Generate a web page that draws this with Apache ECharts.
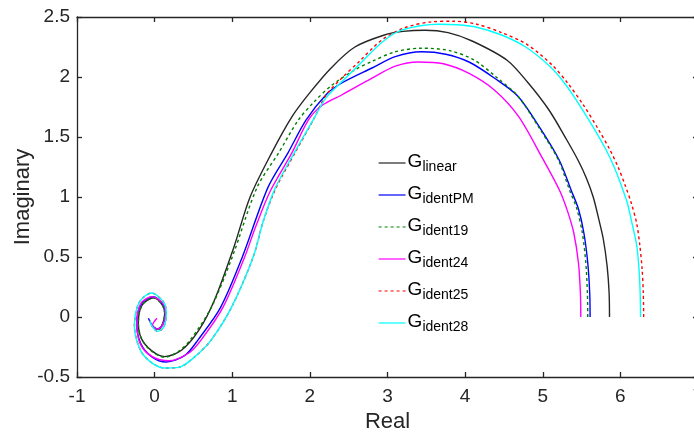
<!DOCTYPE html>
<html>
<head>
<meta charset="utf-8">
<script src="https://cdn.jsdelivr.net/npm/echarts@6/dist/echarts.min.js"></script>
<style>
html,body{margin:0;padding:0;background:#fff;}
#chart{width:694px;height:434px;}
</style>
</head>
<body>
<div id="chart"></div>
<script>
// ---- data: [Real, Imaginary] pairs ----
const seriesNames = ['G_linear', 'G_identPM', 'G_ident19', 'G_ident24', 'G_ident25', 'G_ident28'];

const gLinear = [[5.86,0],[5.855,0.2],[5.83,0.42],[5.78,0.65],[5.72,0.82],[5.65,1.0],[5.56,1.16],[5.46,1.30],[5.31,1.475],[5.08,1.725],[4.80,1.96],[4.54,2.14],[4.09,2.30],[3.78,2.37],[3.48,2.39],[3.20,2.38],[2.96,2.35],[2.58,2.25],[2.28,2.08],[2.00,1.87],[1.77,1.67],[1.51,1.37],[1.23,1.0],[1.02,0.58],[0.77,0.14],[0.57,-0.11],[0.35,-0.275],[0.13,-0.33],[-0.04,-0.28],[-0.17,-0.18],[-0.21,-0.05],[-0.16,0.10],[-0.01,0.16],[0.10,0.10],[0.13,0.03],[0.10,-0.06],[0.05,-0.10],[-0.01,-0.09]];

const gIdentPM = [[5.61,0],[5.605,0.2],[5.58,0.45],[5.53,0.70],[5.46,0.90],[5.37,1.05],[5.21,1.31],[4.96,1.58],[4.68,1.84],[4.38,1.99],[4.05,2.125],[3.75,2.19],[3.44,2.21],[3.10,2.17],[2.80,2.075],[2.41,1.95],[2.22,1.86],[1.95,1.64],[1.72,1.37],[1.46,1.08],[1.13,0.5],[0.85,0.08],[0.56,-0.19],[0.39,-0.32],[0.15,-0.375],[-0.04,-0.33],[-0.18,-0.22],[-0.23,-0.05],[-0.17,0.11],[-0.02,0.17],[0.11,0.10],[0.14,0.02],[0.10,-0.07],[0.03,-0.10],[-0.04,-0.06],[-0.08,-0.01]];

const gIdent19 = [[5.58,0],[5.575,0.2],[5.555,0.45],[5.51,0.70],[5.44,0.90],[5.35,1.05],[5.20,1.31],[4.95,1.58],[4.68,1.84],[4.40,2.0],[4.12,2.14],[3.80,2.22],[3.44,2.24],[3.10,2.21],[2.80,2.13],[2.58,2.06],[2.28,1.93],[2.05,1.79],[1.85,1.64],[1.60,1.37],[1.32,1.08],[1.00,0.5],[0.73,0.08],[0.46,-0.19],[0.30,-0.29],[0.13,-0.335],[-0.04,-0.285],[-0.17,-0.18],[-0.21,-0.05],[-0.16,0.10],[-0.01,0.16],[0.10,0.10],[0.13,0.03],[0.10,-0.06],[0.05,-0.10],[-0.01,-0.09]];

const gIdent24 = [[5.49,0],[5.485,0.2],[5.46,0.45],[5.40,0.70],[5.32,0.88],[5.22,1.05],[4.99,1.33],[4.69,1.67],[4.38,1.89],[4.05,2.03],[3.72,2.11],[3.40,2.125],[3.10,2.09],[2.80,1.99],[2.41,1.85],[2.15,1.76],[1.98,1.64],[1.77,1.37],[1.49,1.05],[1.30,0.75],[1.16,0.5],[0.88,0.08],[0.60,-0.19],[0.44,-0.30],[0.18,-0.365],[-0.03,-0.33],[-0.18,-0.23],[-0.23,-0.06],[-0.18,0.11],[-0.03,0.17],[0.11,0.11],[0.14,0.02],[0.10,-0.07],[0.04,-0.10],[-0.03,-0.07],[0.03,-0.01]];

const gIdent25 = [[6.30,0],[6.295,0.2],[6.28,0.4],[6.25,0.6],[6.21,0.78],[6.14,0.95],[6.06,1.1],[5.97,1.25],[5.86,1.40],[5.72,1.56],[5.52,1.77],[5.32,1.95],[5.12,2.10],[4.80,2.27],[4.47,2.37],[4.15,2.44],[3.85,2.465],[3.57,2.46],[3.22,2.41],[2.93,2.31],[2.63,2.125],[2.41,1.99],[2.21,1.85],[2.05,1.65],[1.81,1.37],[1.56,1.07],[1.40,0.8],[1.27,0.5],[0.99,0.08],[0.73,-0.19],[0.52,-0.33],[0.31,-0.42],[0.13,-0.425],[-0.04,-0.38],[-0.18,-0.28],[-0.26,-0.08],[-0.20,0.12],[-0.04,0.20],[0.12,0.12],[0.15,0.03],[0.12,-0.08],[0.04,-0.12],[-0.03,-0.08],[-0.06,-0.03]];

const gIdent28 = [[6.26,0],[6.255,0.2],[6.24,0.4],[6.21,0.6],[6.15,0.78],[6.09,0.95],[6.01,1.1],[5.92,1.25],[5.81,1.40],[5.67,1.56],[5.47,1.77],[5.28,1.95],[5.09,2.09],[4.78,2.25],[4.47,2.35],[4.15,2.415],[3.90,2.435],[3.66,2.44],[3.18,2.39],[2.93,2.29],[2.63,2.10],[2.41,1.96],[2.20,1.82],[2.04,1.64],[1.80,1.37],[1.55,1.07],[1.40,0.8],[1.27,0.5],[0.99,0.08],[0.73,-0.19],[0.52,-0.33],[0.31,-0.42],[0.13,-0.425],[-0.04,-0.38],[-0.18,-0.28],[-0.26,-0.08],[-0.20,0.12],[-0.04,0.20],[0.12,0.12],[0.15,0.03],[0.12,-0.08],[0.04,-0.12],[-0.03,-0.08],[-0.06,-0.03]];

const xTicks = [-1, 0, 1, 2, 3, 4, 5, 6, 7];
const yTicks = [-0.5, 0, 0.5, 1, 1.5, 2, 2.5];
const xTitle = 'Real';
const yTitle = 'Imaginary';

const seriesData = [gLinear, gIdentPM, gIdent19, gIdent24, gIdent25, gIdent28];
const seriesColors = ['#262626', '#0000ff', '#008000', '#ff00ff', '#ff0000', '#00ffff'];
const seriesDash = ['solid', 'solid', [3, 3], 'solid', [3, 3], 'solid'];

const FONT = 'Liberation Sans, Arial, Helvetica, sans-serif';
const AX = '#262626';

const chart = echarts.init(document.getElementById('chart'), null, {renderer: 'canvas'});

function axisBase() {
  return {
    axisLine: {show: true, onZero: false, lineStyle: {color: AX, width: 1.3}},
    axisTick: {show: true, inside: true, length: 5, lineStyle: {color: AX, width: 1.3}},
    splitLine: {show: false}
  };
}

const option = {
  animation: false,
  backgroundColor: '#fff',
  grid: {left: 77, top: 17, width: 621, height: 360, containLabel: false, outerBoundsMode: 'none'},
  xAxis: [
    Object.assign(axisBase(), {
      type: 'value', position: 'bottom', min: xTicks[0], max: xTicks[xTicks.length - 1], interval: 1,
      axisLabel: {color: AX, fontSize: 19, fontFamily: FONT, margin: 10},
      name: xTitle, nameLocation: 'middle', nameGap: 34, nameMoveOverlap: false,
      nameTextStyle: {color: AX, fontSize: 22, fontFamily: FONT}
    }),
    Object.assign(axisBase(), {
      type: 'value', position: 'top', min: xTicks[0], max: xTicks[xTicks.length - 1], interval: 1,
      axisLabel: {show: false}
    })
  ],
  yAxis: [
    Object.assign(axisBase(), {
      type: 'value', position: 'left', min: yTicks[0], max: yTicks[yTicks.length - 1], interval: 0.5,
      axisLabel: {color: AX, fontSize: 19, fontFamily: FONT, margin: 7},
      name: yTitle, nameLocation: 'middle', nameGap: 43, nameRotate: 90, nameMoveOverlap: false,
      nameTextStyle: {color: AX, fontSize: 22, fontFamily: FONT}
    }),
    Object.assign(axisBase(), {
      type: 'value', position: 'right', min: yTicks[0], max: yTicks[yTicks.length - 1], interval: 0.5,
      axisLabel: {show: false}
    })
  ],
  legend: {
    orient: 'vertical',
    left: 378,
    top: 150,
    padding: 0,
    itemWidth: 27,
    itemHeight: 12,
    itemGap: 8,
    itemStyle: {opacity: 0},
    lineStyle: {width: 1.2},
    data: seriesNames,
    formatter: function (name) {
      const p = name.split('_');
      return '{g|' + p[0] + '}{s|' + p[1] + '}';
    },
    textStyle: {
      fontFamily: FONT,
      color: '#000',
      padding: [0, 0, 0, -3],
      rich: {
        g: {fontSize: 19, fontFamily: FONT, color: '#000', lineHeight: 22, verticalAlign: 'top'},
        s: {fontSize: 14, fontFamily: FONT, color: '#000', lineHeight: 16, padding: [10, 0, 0, 0], verticalAlign: 'bottom'}
      }
    }
  },
  series: seriesNames.map(function (n, i) {
    return {
      name: n,
      type: 'line',
      xAxisIndex: 0,
      yAxisIndex: 0,
      data: seriesData[i],
      smooth: 0.3,
      symbol: 'none',
      clip: true,
      color: seriesColors[i],
      lineStyle: {color: seriesColors[i], width: 1.4, type: seriesDash[i]}
    };
  })
};

chart.setOption(option);
</script>
</body>
</html>
